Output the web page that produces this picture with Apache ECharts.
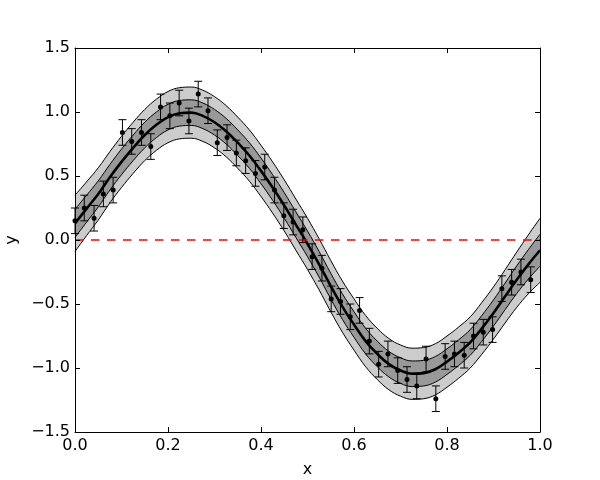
<!DOCTYPE html>
<html>
<head>
<meta charset="utf-8">
<script src="https://cdn.jsdelivr.net/npm/echarts@6/dist/echarts.min.js"></script>
<style>
  html, body { margin: 0; padding: 0; background: #fff; }
  #chart { width: 600px; height: 480px; }
</style>
</head>
<body>
<div id="chart"></div>
<script>
// observed points (x, y) with constant error bars
const pointX = [
  0.000, 0.020, 0.041, 0.061, 0.082, 0.102, 0.122, 0.143, 0.163, 0.184,
  0.204, 0.224, 0.245, 0.265, 0.286, 0.306, 0.327, 0.347, 0.367, 0.388,
  0.408, 0.429, 0.449, 0.469, 0.490, 0.510, 0.531, 0.551, 0.571, 0.592,
  0.612, 0.633, 0.653, 0.673, 0.694, 0.714, 0.735, 0.755, 0.776, 0.796,
  0.816, 0.837, 0.857, 0.878, 0.898, 0.918, 0.939, 0.959, 0.980
];
const pointY = [
  0.15, 0.25, 0.17, 0.36, 0.39, 0.84, 0.77, 0.84, 0.73, 1.04,
  0.97, 1.07, 0.93, 1.14, 1.01, 0.76, 0.80, 0.68, 0.62, 0.52,
  0.57, 0.39, 0.19, 0.14, 0.08, -0.13, -0.22, -0.46, -0.48, -0.60,
  -0.55, -0.79, -0.97, -0.89, -1.02, -1.09, -1.14, -0.93, -1.24, -0.91,
  -0.89, -0.90, -0.75, -0.72, -0.70, -0.38, -0.33, -0.25, -0.31
];
const pointErr = 0.1;

// fitted mean curve and its 1-sigma width
const curveX = [
  0.000, 0.025, 0.050, 0.075, 0.100, 0.125, 0.150, 0.175, 0.200, 0.225,
  0.250, 0.275, 0.300, 0.325, 0.350, 0.375, 0.400, 0.425, 0.450, 0.475,
  0.500, 0.525, 0.550, 0.575, 0.600, 0.625, 0.650, 0.675, 0.700, 0.725,
  0.750, 0.775, 0.800, 0.825, 0.850, 0.875, 0.900, 0.925, 0.950, 0.975, 1.000
];
const curveMean = [
  0.13, 0.245, 0.36, 0.49, 0.61, 0.72, 0.82, 0.90, 0.96, 0.99,
  0.995, 0.97, 0.92, 0.85, 0.76, 0.66, 0.54, 0.41, 0.27, 0.12,
  -0.03, -0.19, -0.36, -0.52, -0.66, -0.79, -0.89, -0.97, -1.02, -1.045,
  -1.04, -1.01, -0.95, -0.88, -0.80, -0.69, -0.57, -0.44, -0.31, -0.19, -0.08
];
const curveSigma = [
  0.110, 0.105, 0.102, 0.100, 0.100, 0.100, 0.100, 0.100, 0.100, 0.100,
  0.100, 0.100, 0.100, 0.100, 0.100, 0.100, 0.100, 0.100, 0.100, 0.100,
  0.100, 0.100, 0.100, 0.100, 0.100, 0.100, 0.100, 0.100, 0.100, 0.100,
  0.100, 0.100, 0.100, 0.100, 0.100, 0.101, 0.102, 0.104, 0.108, 0.115, 0.125
];

const xTicks = [0, 0.2, 0.4, 0.6, 0.8, 1.0];
const yTicks = [-1.5, -1.0, -0.5, 0.0, 0.5, 1.0, 1.5];

const FONT = "DejaVu Sans";
const fmt = (v) => (v < 0 ? "\u2212" : "") + Math.abs(v).toFixed(1);

const pairs = (xs, ys) => xs.map((x, i) => [x, ys[i]]);
const band = (k) => curveMean.map((m, i) => m + k * curveSigma[i]);

const SMOOTH = 0.4;

const chart = echarts.init(document.getElementById("chart"), null, { renderer: "canvas" });

function axisBase(extra) {
  return Object.assign({
    type: "value",
    z: 10,
    axisLine: { show: true, onZero: false, lineStyle: { color: "#000", width: 1 } },
    axisTick: { show: true, inside: true, length: 5, lineStyle: { color: "#000", width: 1 } },
    splitLine: { show: false },
  }, extra);
}

// band edge filled down to the bottom of the plot; painted top-down so each
// later fill covers the part below the next edge
function edge(k, fill) {
  return {
    type: "line", data: pairs(curveX, band(k)), smooth: SMOOTH, symbol: "none", silent: true,
    z: 2,
    lineStyle: { color: "#000", width: 1 },
    areaStyle: { color: fill, opacity: 1, origin: "start" },
  };
}

const option = {
  animation: false,
  backgroundColor: "#fff",
  grid: { left: 75, right: 60, top: 48, bottom: 48, outerBoundsMode: "none", containLabel: false },
  xAxis: [
    axisBase({
      position: "bottom", min: 0, max: 1, interval: 0.2,
      name: "x", nameLocation: "middle", nameGap: 30,
      nameTextStyle: { color: "#000", fontSize: 16, fontFamily: FONT },
      axisLabel: { color: "#000", fontSize: 16, fontFamily: FONT, margin: 6, formatter: fmt,
        customValues: xTicks },
    }),
    axisBase({
      position: "top", min: 0, max: 1, interval: 0.2,
      axisLabel: { show: false },
    }),
  ],
  yAxis: [
    axisBase({
      position: "left", min: -1.5, max: 1.5, interval: 0.5,
      name: "y", nameLocation: "middle", nameGap: 47,
      nameTextStyle: { color: "#000", fontSize: 16, fontFamily: FONT },
      axisLabel: { color: "#000", fontSize: 16, fontFamily: FONT, margin: 5, formatter: fmt,
        customValues: yTicks },
    }),
    axisBase({
      position: "right", min: -1.5, max: 1.5, interval: 0.5,
      axisLabel: { show: false },
    }),
  ],
  series: [
    edge(2, "#cccccc"),
    edge(1, "#999999"),
    edge(-1, "#cccccc"),
    edge(-2, "#ffffff"),
    // mean
    {
      type: "line", data: pairs(curveX, curveMean), smooth: SMOOTH, symbol: "none", z: 3,
      lineStyle: { color: "#000", width: 2.6 }, silent: true,
    },
    // zero line
    {
      type: "line", data: [[0, 0], [1, 0]], symbol: "none", silent: true, z: 4,
      lineStyle: { color: "#ff0000", width: 1.5, type: [8.5, 7.5] },
    },
    // error bars
    {
      type: "custom",
      data: pairs(pointX, pointY),
      silent: true,
      z: 5,
      renderItem(params, api) {
        const x = api.value(0);
        const y = api.value(1);
        const top = api.coord([x, y + pointErr]);
        const bot = api.coord([x, y - pointErr]);
        const hw = 4;
        const style = { stroke: "#000", lineWidth: 1 };
        return {
          type: "group",
          children: [
            { type: "line", shape: { x1: top[0], y1: top[1], x2: bot[0], y2: bot[1] }, style },
            { type: "line", shape: { x1: top[0] - hw, y1: top[1], x2: top[0] + hw, y2: top[1] }, style },
            { type: "line", shape: { x1: bot[0] - hw, y1: bot[1], x2: bot[0] + hw, y2: bot[1] }, style },
          ],
        };
      },
    },
    // points
    {
      type: "scatter", data: pairs(pointX, pointY), symbol: "circle", symbolSize: 5, z: 6,
      itemStyle: { color: "#000", opacity: 1 }, silent: true,
    },
  ],
};

chart.setOption(option);
</script>
</body>
</html>
